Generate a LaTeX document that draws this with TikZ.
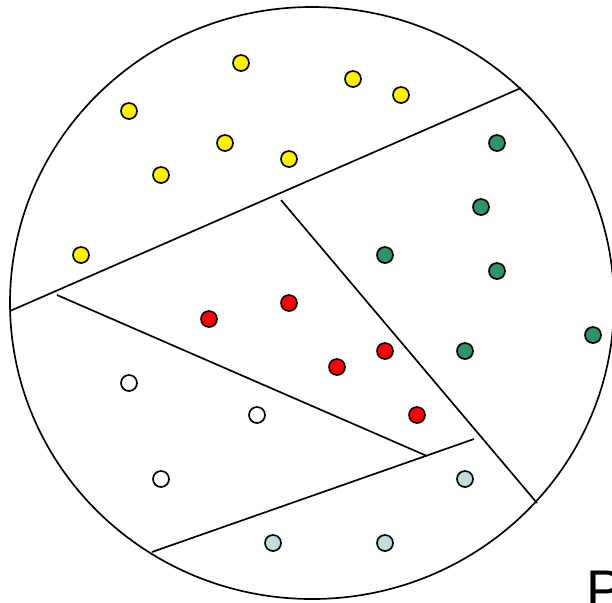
\documentclass[tikz,border=0pt]{standalone}
\usepackage{fontspec}
\setsansfont{Liberation Sans}
\usepackage{tikz}
\usetikzlibrary{positioning}
\usepackage{xcolor}
\definecolor{dotgreen}{RGB}{46,148,100}
\definecolor{dotblue}{RGB}{188,224,226}

\begin{document}
\begin{tikzpicture}[x=0.02cm,y=-0.02cm,line width=0.95pt,
    pt/.style={circle,draw=black,line width=0.95pt,inner sep=0pt,minimum size=0.32cm}]
  \useasboundingbox (0,0) rectangle (612,602);
  \clip (0,0) rectangle (612,602);
  % sample
  \draw (312,303) ellipse [x radius=302, y radius=296];
  % cuts
  \coordinate (A1) at (10,311);  \coordinate (A2) at (521,88);
  \coordinate (B1) at (281,200); \coordinate (B2) at (537,503);
  \coordinate (C1) at (57,295);  \coordinate (C2) at (427,456);
  \coordinate (D1) at (152,552); \coordinate (D2) at (474,439);
  \draw (A1) -- (A2);
  \draw (B1) -- (B2);
  \draw (C1) -- (C2);
  \draw (D1) -- (D2);
  % yellow
  \foreach \x/\y [count=\i] in {241/63,353/79,401/95,129/111,225/143,289/159,161/175,81/255}
    \node[pt,fill=yellow] (y\i) at (\x,\y) {};
  % green
  \foreach \x/\y [count=\i] in {497/143,481/207,385/255,497/271,593/335,465/351}
    \node[pt,fill=dotgreen] (g\i) at (\x,\y) {};
  % red
  \foreach \x/\y [count=\i] in {289/303,209/319,385/351,337/367,417/415}
    \node[pt,fill=red] (r\i) at (\x,\y) {};
  % white
  \foreach \x/\y [count=\i] in {129/383,257/415,161/479}
    \node[pt,fill=white] (w\i) at (\x,\y) {};
  % light blue
  \foreach \x/\y [count=\i] in {465/479,273/543,385/543}
    \node[pt,fill=dotblue] (b\i) at (\x,\y) {};
  % label
  \node[anchor=base west,inner sep=0pt,font=\sffamily\fontsize{31}{36}\selectfont] (lbl) at (586,608) {P};
\end{tikzpicture}
\end{document}
